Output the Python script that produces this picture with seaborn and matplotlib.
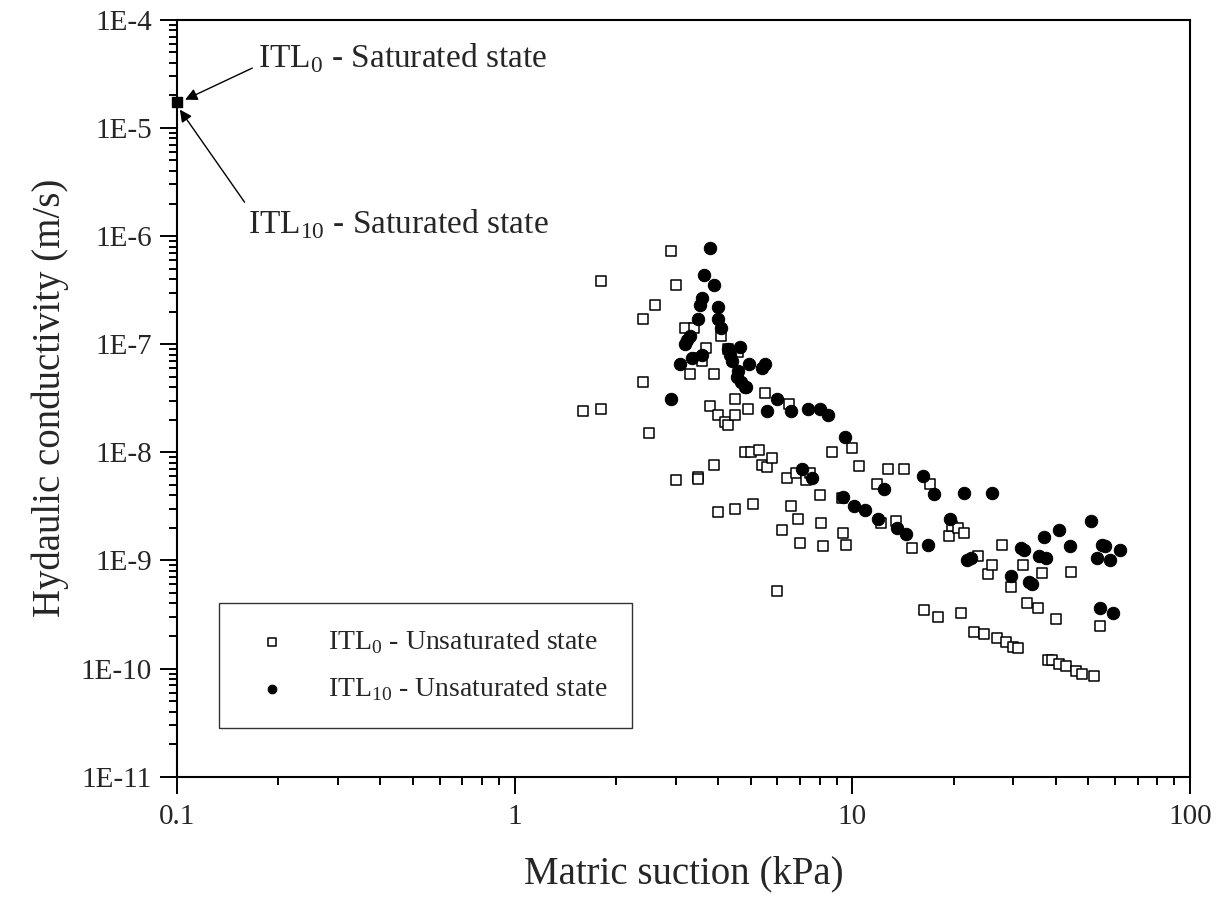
import matplotlib
matplotlib.use("Agg")
import matplotlib.pyplot as plt
import pandas as pd
import seaborn as sns

itl0_x = [1.6, 1.8, 1.8, 2.4, 2.4, 2.5, 2.6, 2.9, 3.0, 3.0, 3.2, 3.3, 3.4, 3.5, 3.5, 3.5, 3.6, 3.7,
          3.8, 3.9, 3.9, 4.0, 4.0, 4.1, 4.2, 4.3, 4.3, 4.5, 4.5, 4.5, 4.6, 4.8, 4.9, 5.0, 5.1, 5.3,
          5.4, 5.5, 5.6, 5.8, 6.0, 6.2, 6.4, 6.5, 6.6, 6.8, 6.9, 7.0, 7.3, 7.5, 8.0, 8.1, 8.2, 8.7,
          9.3, 9.4, 9.6, 10.0, 10.5, 11.8, 12.2, 12.8, 13.5, 14.2, 15.0, 16.3, 17.0, 18.0, 19.3,
          19.8, 20.5, 21.0, 21.5, 23.0, 23.5, 24.5, 25.2, 26.0, 26.8, 27.8, 28.5, 30.0, 29.5, 31.0,
          32.0, 33.0, 35.5, 36.5, 38.0, 39.0, 40.0, 41.0, 43.0, 44.5, 46.0, 48.0, 52.0, 54.0]
itl0_k = [2.4e-8, 2.5e-8, 3.8e-7, 1.7e-7, 4.5e-8, 1.5e-8, 2.3e-7, 7.2e-7, 3.5e-7, 5.6e-9, 1.4e-7,
          5.3e-8, 1.4e-7, 5.9e-9, 5.7e-9, 7.5e-8, 7.0e-8, 9.2e-8, 2.7e-8, 7.7e-9, 5.3e-8, 2.2e-8,
          2.8e-9, 1.2e-7, 1.9e-8, 9.0e-8, 1.8e-8, 3.0e-9, 3.1e-8, 2.2e-8, 8.5e-8, 1.0e-8, 2.5e-8,
          1.0e-8, 3.3e-9, 1.05e-8, 7.6e-9, 3.5e-8, 7.3e-9, 8.8e-9, 5.2e-10, 1.9e-9, 5.8e-9, 2.8e-8,
          3.2e-9, 6.4e-9, 2.4e-9, 1.45e-9, 5.5e-9, 6.5e-9, 4.0e-9, 2.2e-9, 1.35e-9, 1.0e-8, 3.8e-9,
          1.8e-9, 1.4e-9, 1.1e-8, 7.5e-9, 5.1e-9, 2.2e-9, 7.0e-9, 2.3e-9, 7.0e-9, 1.3e-9, 3.5e-10,
          5.1e-9, 3.0e-10, 1.7e-9, 2.1e-9, 2.0e-9, 3.3e-10, 1.8e-9, 2.2e-10, 1.1e-9, 2.1e-10,
          7.5e-10, 9.0e-10, 1.9e-10, 1.4e-9, 1.75e-10, 1.6e-10, 5.7e-10, 1.55e-10, 9.0e-10, 4.0e-10,
          3.6e-10, 7.6e-10, 1.2e-10, 1.2e-10, 2.9e-10, 1.1e-10, 1.05e-10, 7.8e-10, 9.5e-11, 9.0e-11,
          8.5e-11, 2.5e-10]

itl10_x = [2.9, 3.1, 3.2, 3.25, 3.3, 3.35, 3.5, 3.55, 3.6, 3.65, 3.6, 3.8, 3.9, 4.0, 4.0, 4.1, 4.3,
           4.35, 4.4, 4.55, 4.6, 4.65, 4.7, 4.8, 4.85, 4.95, 5.4, 5.5, 5.6, 6.0, 6.6, 7.1, 7.4, 7.6,
           8.0, 8.5, 9.5, 9.4, 10.1, 10.9, 11.9, 12.4, 13.6, 14.4, 16.2, 16.8, 17.5, 19.5, 21.5,
           21.8, 22.5, 26.0, 29.5, 31.5, 32.3, 33.3, 34.0, 35.7, 37.0, 37.5, 41.0, 44.0, 51.0, 53.0,
           54.0, 55.0, 56.0, 58.0, 59.0, 62.0]
itl10_k = [3.1e-8, 6.5e-8, 1.0e-7, 1.1e-7, 1.2e-7, 7.5e-8, 1.7e-7, 2.3e-7, 2.7e-7, 4.4e-7, 8.0e-8,
           7.8e-7, 3.5e-7, 2.2e-7, 1.7e-7, 1.4e-7, 9.0e-8, 8.0e-8, 7.0e-8, 5.0e-8, 5.6e-8, 9.5e-8,
           4.5e-8, 4.0e-8, 4.0e-8, 6.5e-8, 6.0e-8, 6.5e-8, 2.4e-8, 3.1e-8, 2.4e-8, 7.0e-9, 2.5e-8,
           5.8e-9, 2.5e-8, 2.2e-8, 1.4e-8, 3.9e-9, 3.2e-9, 2.9e-9, 2.4e-9, 4.6e-9, 2.0e-9, 1.75e-9,
           6.0e-9, 1.4e-9, 4.1e-9, 2.4e-9, 4.2e-9, 1.0e-9, 1.05e-9, 4.2e-9, 7.2e-10, 1.3e-9, 1.25e-9,
           6.3e-10, 6.0e-10, 1.1e-9, 1.65e-9, 1.05e-9, 1.9e-9, 1.35e-9, 2.3e-9, 1.05e-9, 3.6e-10,
           1.4e-9, 1.35e-9, 1.0e-9, 3.3e-10, 1.25e-9]

sat_x = [0.1]
sat_k = [1.75e-5]

sns.set_theme(style="ticks")
plt.rcParams["font.family"] = ["Liberation Serif", "DejaVu Serif"]
plt.rcParams["mathtext.fontset"] = "custom"
plt.rcParams["mathtext.rm"] = "Liberation Serif"

fig, ax = plt.subplots(figsize=(12.28, 9), dpi=100)
fig.subplots_adjust(left=0.144, right=0.969, top=0.978, bottom=0.137)

df0 = pd.DataFrame({"x": itl0_x, "k": itl0_k})
df10 = pd.DataFrame({"x": itl10_x, "k": itl10_k})
sns.scatterplot(data=df0, x="x", y="k", ax=ax, marker="s", s=55, facecolor="white",
                edgecolor="black", linewidth=1.1, label=r"ITL$_\mathrm{0}$ - Unsaturated state", zorder=3)
sns.scatterplot(data=df10, x="x", y="k", ax=ax, marker="o", s=80, color="black",
                edgecolor="black", label=r"ITL$_\mathrm{10}$ - Unsaturated state", zorder=4)
ax.scatter(sat_x, sat_k, marker="s", s=50, color="black", zorder=5, clip_on=False)

ax.set_xscale("log")
ax.set_yscale("log")
ax.set_xlim(0.1, 100)
ax.set_ylim(1e-11, 1e-4)
ax.set_xticks([0.1, 1, 10, 100])
ax.set_xticklabels(["0.1", "1", "10", "100"])
yt = [10.0 ** e for e in range(-11, -3)]
ax.set_yticks(yt)
ax.set_yticklabels([f"1E{e}" for e in range(-11, -3)])
ax.tick_params(axis="both", which="both", direction="out", labelsize=21, width=1.4, color="black")
ax.tick_params(axis="x", which="major", length=12, pad=8)
ax.tick_params(axis="y", which="major", length=12, pad=6)
ax.tick_params(which="minor", length=6)
for s in ax.spines.values():
    s.set_linewidth(1.5)
    s.set_color("black")

ax.set_xlabel("Matric suction (kPa)", fontsize=28, labelpad=18)
ax.set_ylabel("Hydaulic conductivity (m/s)", fontsize=28, labelpad=8)

arrow = dict(arrowstyle="-|>", color="black", lw=1, mutation_scale=18)
ax.annotate(r"ITL$_\mathrm{0}$ - Saturated state", xy=(0.104, 1.78e-5), xytext=(0.174, 3.6e-5),
            fontsize=24, arrowprops=dict(arrow, relpos=(0.0, 0.3)))
ax.annotate(r"ITL$_\mathrm{10}$ - Saturated state", xy=(0.101, 1.55e-5), xytext=(0.163, 1.05e-6),
            fontsize=24, arrowprops=dict(arrow, relpos=(0.0, 1.0)))

leg = ax.legend(loc="lower left", bbox_to_anchor=(0.042, 0.064), fontsize=20, frameon=True,
                fancybox=False, edgecolor="black", borderpad=0.9, labelspacing=0.7,
                handletextpad=1.0, markerscale=0.7, borderaxespad=0)
leg.get_frame().set_linewidth(1.0)

fig.savefig("out.png", dpi=100)
